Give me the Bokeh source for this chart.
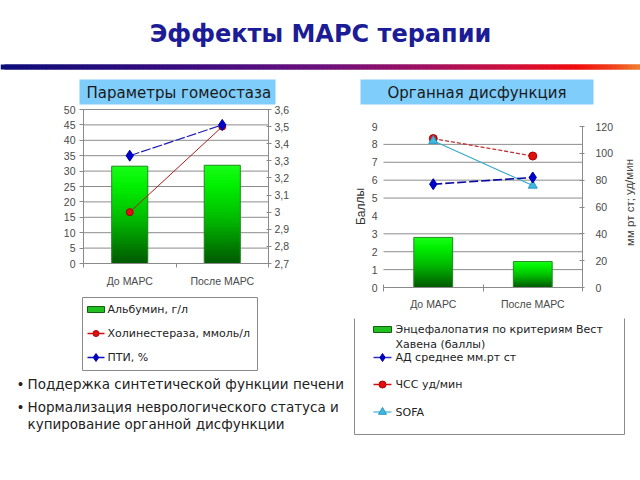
from bokeh.plotting import figure
from bokeh.models import Range1d, LinearAxis, FixedTicker, CustomJSTickFormatter
from bokeh.core.properties import value
from bokeh.embed import file_html
from bokeh.resources import INLINE

# ---------------- data ----------------
categories = ["До МАРС", "После МАРС"]
cat_x = [0.5, 1.5]

# left chart: homeostasis parameters
albumin = [31.6, 31.9]            # г/л (left axis)
cholinesterase = [3.0, 3.5]       # ммоль/л (right axis)
pti = [35, 45]                    # % (left axis)
left_ticks = [0, 5, 10, 15, 20, 25, 30, 35, 40, 45, 50]
left_right_ticks = [2.7, 2.8, 2.9, 3.0, 3.1, 3.2, 3.3, 3.4, 3.5, 3.6]

# right chart: organ dysfunction
encephalopathy = [2.8, 1.45]      # баллы (left axis)
sofa = [8.2, 5.7]                 # баллы (left axis)
map_mean = [77, 82]               # мм рт ст (right axis)
heart_rate = [111, 98]            # уд/мин (right axis)
score_ticks = [0, 1, 2, 3, 4, 5, 6, 7, 8, 9]
score_grid = [1, 2, 3, 5, 6, 7, 8]
rate_ticks = [0, 20, 40, 60, 80, 100, 120]

title_text = "Эффекты МАРС терапии"
panel_titles = ["Параметры гомеостаза", "Органная дисфункция"]
legend_left = ["Альбумин, г/л", "Холинестераза, ммоль/л", "ПТИ, %"]
legend_right = ["Энцефалопатия по критериям Вест", "Хавена (баллы)",
                "АД среднее мм.рт ст", "ЧСС уд/мин", "SOFA"]
bullets = ["Поддержка синтетической функции печени",
           "Нормализация неврологического статуса и",
           "купирование органной дисфункции"]

# ---------------- canvas ----------------
W, H = 640, 480


def x_range_px(px0, px1, v0, v1):
    s = (v1 - v0) / (px1 - px0)
    return Range1d(start=v0 - px0 * s, end=v0 + (W - px0) * s)


def y_range_px(py0, py1, v0, v1):
    s = (v1 - v0) / (py0 - py1)
    return Range1d(start=v0 - (H - py0) * s, end=v0 + py0 * s)


p = figure(width=W, height=H, x_range=Range1d(0, W), y_range=Range1d(H, 0),
           output_backend="svg", toolbar_location=None,
           x_axis_location=None, y_axis_location=None,
           min_border=0, min_border_left=0, min_border_right=0,
           min_border_top=0, min_border_bottom=0,
           outline_line_color=None, background_fill_color="white",
           border_fill_color="white")
p.xgrid.visible = False
p.ygrid.visible = False

p.extra_x_ranges = {
    "lx": x_range_px(83, 268, 0, 2),
    "rx": x_range_px(383, 582, 0, 2),
}
p.extra_y_ranges = {
    "ly1": y_range_px(263, 109, 0, 50),
    "ly2": y_range_px(263, 109, 2.7, 3.6),
    "ry1": y_range_px(287, 126, 0, 9),
    "ry2": y_range_px(287, 126, 0, 120),
}

FONT = "DejaVu Sans"
TICKFONT = "Liberation Sans"


def lerp_color(stops, t):
    for (t0, c0), (t1, c1) in zip(stops[:-1], stops[1:]):
        if t <= t1:
            f = 0 if t1 == t0 else (t - t0) / (t1 - t0)
            r, g, b = [int(round(a + (bb - a) * f)) for a, bb in zip(c0, c1)]
            return "#%02x%02x%02x" % (r, g, b)
    r, g, b = stops[-1][1]
    return "#%02x%02x%02x" % (r, g, b)


# ---------------- header ----------------
p.text(x=[W / 2], y=[33], text=[title_text], text_font=value(FONT),
       text_font_size="24px", text_font_style="bold", text_color="#1c1c96",
       text_align="center", text_baseline="middle")

grad_stops = [(0.0, (12, 12, 120)), (0.3, (60, 12, 128)), (0.5, (108, 16, 124)),
              (0.65, (156, 16, 100)), (0.8, (208, 16, 60)), (0.9, (240, 12, 12)),
              (0.96, (240, 70, 30)), (1.0, (240, 130, 48))]
nseg = 160
gl = [W * i / nseg for i in range(nseg)]
gr = [min(W, W * (i + 2) / nseg) for i in range(nseg)]
gc = [lerp_color(grad_stops, (i + 0.5) / nseg) for i in range(nseg)]
p.quad(left=gl, right=gr, top=64, bottom=69, fill_color=gc, line_color=None)

p.quad(left=[79, 360], right=[275, 593], top=79, bottom=104,
       fill_color="#7fcdfb", line_color=None)
p.text(x=[86], y=[92], text=[panel_titles[0]], text_font=value(FONT),
       text_font_size="15px", text_color="#1a1a1a", text_baseline="middle")
p.text(x=[476.5], y=[92], text=[panel_titles[1]], text_font=value(FONT),
       text_font_size="15px", text_color="#1a1a1a", text_baseline="middle",
       text_align="center")

# ---------------- helpers for charts ----------------
bar_stops = [(0.0, (0, 88, 0)), (0.45, (0, 185, 0)), (0.8, (0, 240, 0)), (1.0, (24, 255, 24))]


def gradient_bars(xs, vals, xr, yr, width=0.39, n=40):
    left, right, bottom, top, col = [], [], [], [], []
    for x, v in zip(xs, vals):
        for j in range(n):
            left.append(x - width / 2)
            right.append(x + width / 2)
            bottom.append(v * j / n)
            top.append(min(v, v * (j + 2.5) / n))
            col.append(lerp_color(bar_stops, (j + 0.5) / n))
    p.quad(left=left, right=right, bottom=bottom, top=top,
           fill_color=col, line_color=None, x_range_name=xr, y_range_name=yr)
    p.vbar(x=xs, width=width, top=vals, bottom=0, fill_color=None,
           line_color="#2c8a2c", line_width=1, x_range_name=xr, y_range_name=yr)


def style_axis(ax, tick_out=3, tick_in=0, standoff=4, line_color="#8a8a8a"):
    ax.axis_line_color = line_color
    ax.major_tick_line_color = "#8a8a8a"
    ax.major_tick_out = tick_out
    ax.major_tick_in = tick_in
    ax.minor_tick_line_color = None
    ax.major_label_standoff = standoff
    ax.major_label_text_font = TICKFONT
    ax.major_label_text_font_size = "10.5px"
    ax.major_label_text_color = "#4a4a4a"
    return ax


comma_fmt = CustomJSTickFormatter(
    code="return (Math.round(tick*10)/10).toString().replace('.', ',');")
cat_fmt = CustomJSTickFormatter(args=dict(labels=categories),
                                code="return labels[Math.floor(tick)];")
empty_fmt = CustomJSTickFormatter(code="return '';")

# ---------------- left chart ----------------
p.segment(x0=0, x1=2, y0=left_ticks[1:], y1=left_ticks[1:], line_color="#8c8c8c",
          line_width=1, x_range_name="lx", y_range_name="ly1")
gradient_bars(cat_x, albumin, "lx", "ly1")

p.line(cat_x, cholinesterase, line_color="#b01c1c", line_width=1,
       x_range_name="lx", y_range_name="ly2")
p.scatter(cat_x, cholinesterase, marker="circle", size=7, fill_color="#e01010",
          line_color="#a00000", x_range_name="lx", y_range_name="ly2")
p.line(cat_x, pti, line_color="#1c1cb4", line_width=1.2, line_dash="10 2",
       x_range_name="lx", y_range_name="ly1")
p.scatter(cat_x, pti, marker="diamond", size=11, fill_color="#0000cc",
          line_color="#0000aa", x_range_name="lx", y_range_name="ly1")

ax = LinearAxis(x_range_name="lx", y_range_name="ly1", fixed_location=0,
                ticker=FixedTicker(ticks=left_ticks), bounds=(0, 50))
p.add_layout(style_axis(ax, tick_out=4, standoff=4), "left")
ax = LinearAxis(x_range_name="lx", y_range_name="ly2", fixed_location=2,
                ticker=FixedTicker(ticks=left_right_ticks), bounds=(2.7, 3.6),
                formatter=comma_fmt)
p.add_layout(style_axis(ax, tick_out=3, tick_in=2, standoff=3), "right")
ax = LinearAxis(x_range_name="lx", y_range_name="ly1", fixed_location=0,
                ticker=FixedTicker(ticks=[0, 1, 2]), bounds=(0, 2), formatter=empty_fmt)
p.add_layout(style_axis(ax, tick_out=4), "below")
ax = LinearAxis(x_range_name="lx", y_range_name="ly1", fixed_location=0,
                ticker=FixedTicker(ticks=cat_x), formatter=cat_fmt)
style_axis(ax, tick_out=0, standoff=11, line_color=None)
ax.major_tick_line_color = None
p.add_layout(ax, "below")

# ---------------- right chart ----------------
p.segment(x0=0, x1=2, y0=score_grid, y1=score_grid, line_color="#8c8c8c",
          line_width=1, x_range_name="rx", y_range_name="ry1")
gradient_bars(cat_x, encephalopathy, "rx", "ry1")

p.line(cat_x, heart_rate, line_color="#c03030", line_width=1.3, line_dash="4 2",
       x_range_name="rx", y_range_name="ry2")
p.scatter(cat_x, heart_rate, marker="circle", size=8, fill_color="#e01010",
          line_color="#b00000", x_range_name="rx", y_range_name="ry2")
p.line(cat_x, sofa, line_color="#38a8cc", line_width=1.2,
       x_range_name="rx", y_range_name="ry1")
p.scatter(cat_x, sofa, marker="triangle", size=9, fill_color="#40b8e0",
          line_color="#2a98c0", x_range_name="rx", y_range_name="ry1")
p.line(cat_x, map_mean, line_color="#0a0aa0", line_width=1.6, line_dash="9 3",
       x_range_name="rx", y_range_name="ry2")
p.scatter(cat_x, map_mean, marker="diamond", size=11, fill_color="#0000cc",
          line_color="#0000aa", x_range_name="rx", y_range_name="ry2")

ax = LinearAxis(x_range_name="rx", y_range_name="ry1", fixed_location=0,
                ticker=FixedTicker(ticks=score_ticks), bounds=(0, 9))
style_axis(ax, tick_out=0, standoff=6, line_color=None)
p.add_layout(ax, "left")
ax = LinearAxis(x_range_name="rx", y_range_name="ry2", fixed_location=2,
                ticker=FixedTicker(ticks=rate_ticks), bounds=(0, 120))
p.add_layout(style_axis(ax, tick_out=2, tick_in=3, standoff=11), "right")
ax = LinearAxis(x_range_name="rx", y_range_name="ry1", fixed_location=0,
                ticker=FixedTicker(ticks=[0, 1, 2]), bounds=(0, 2), formatter=empty_fmt)
p.add_layout(style_axis(ax, tick_out=4, tick_in=3), "below")
ax = LinearAxis(x_range_name="rx", y_range_name="ry1", fixed_location=0,
                ticker=FixedTicker(ticks=cat_x), formatter=cat_fmt)
style_axis(ax, tick_out=0, standoff=10, line_color=None)
ax.major_tick_line_color = None
p.add_layout(ax, "below")

p.text(x=[360], y=[206], text=["Баллы"], angle=1.5708, text_font=value(TICKFONT),
       text_font_size="12px", text_color="#333333", text_align="center",
       text_baseline="middle")
p.text(x=[629], y=[202], text=["мм рт ст; уд/мин"], angle=1.5708,
       text_font=value(TICKFONT), text_font_size="11.5px", text_color="#444444",
       text_align="center", text_baseline="middle")

# ---------------- left legend ----------------
p.quad(left=82, right=257, top=297, bottom=370, fill_color="white",
       line_color="#8a8a8a", line_width=1)
p.quad(left=87, right=104, top=306, bottom=312, fill_color="#20c020",
       line_color="#106010")
p.segment(x0=[87, 87], x1=[104, 104], y0=[333, 357], y1=[333, 357],
          line_color=["#d01010", "#1010c0"], line_width=1.5)
p.scatter([95.5], [333], marker="circle", size=6, fill_color="#e01010", line_color="#b00000")
p.scatter([95.5], [357], marker="diamond", size=8, fill_color="#0000cc", line_color="#0000aa")
p.text(x=[107, 107, 107], y=[309, 333, 357], text=legend_left, text_font=value(FONT),
       text_font_size="11px", text_color="#222222", text_baseline="middle")

# ---------------- right legend ----------------
p.segment(x0=[354, 354, 624], x1=[354, 624, 624], y0=[318, 434, 318], y1=[434, 434, 434],
          line_color="#8a8a8a", line_width=1)
p.quad(left=373, right=391, top=326, bottom=332, fill_color="#20c020",
       line_color="#106010")
p.segment(x0=[373, 373, 373], x1=[391, 391, 391], y0=[357, 384, 411.5],
          y1=[357, 384, 411.5], line_color=["#3030c0", "#d01010", "#60c0e0"],
          line_width=1.5)
p.scatter([382], [357], marker="diamond", size=8, fill_color="#0000cc", line_color="#0000aa")
p.scatter([382], [384], marker="circle", size=7, fill_color="#e01010", line_color="#b00000")
p.scatter([382], [411.5], marker="triangle", size=8, fill_color="#40b8e0", line_color="#2a98c0")
p.text(x=[395] * 5, y=[329, 343.5, 357, 384, 411.5], text=legend_right,
       text_font=value(FONT), text_font_size="11px", text_color="#222222",
       text_baseline="middle")

# ---------------- bullets ----------------
p.text(x=[16, 16], y=[383, 406.5], text=["•", "•"], text_font=value(FONT),
       text_font_size="13.5px", text_color="#222222", text_baseline="middle")
p.text(x=[27, 27, 27], y=[383, 406.5, 423.5], text=bullets, text_font=value(FONT),
       text_font_size="13.5px", text_color="#222222", text_baseline="middle")

open("out.html", "w").write(file_html(p, INLINE))
